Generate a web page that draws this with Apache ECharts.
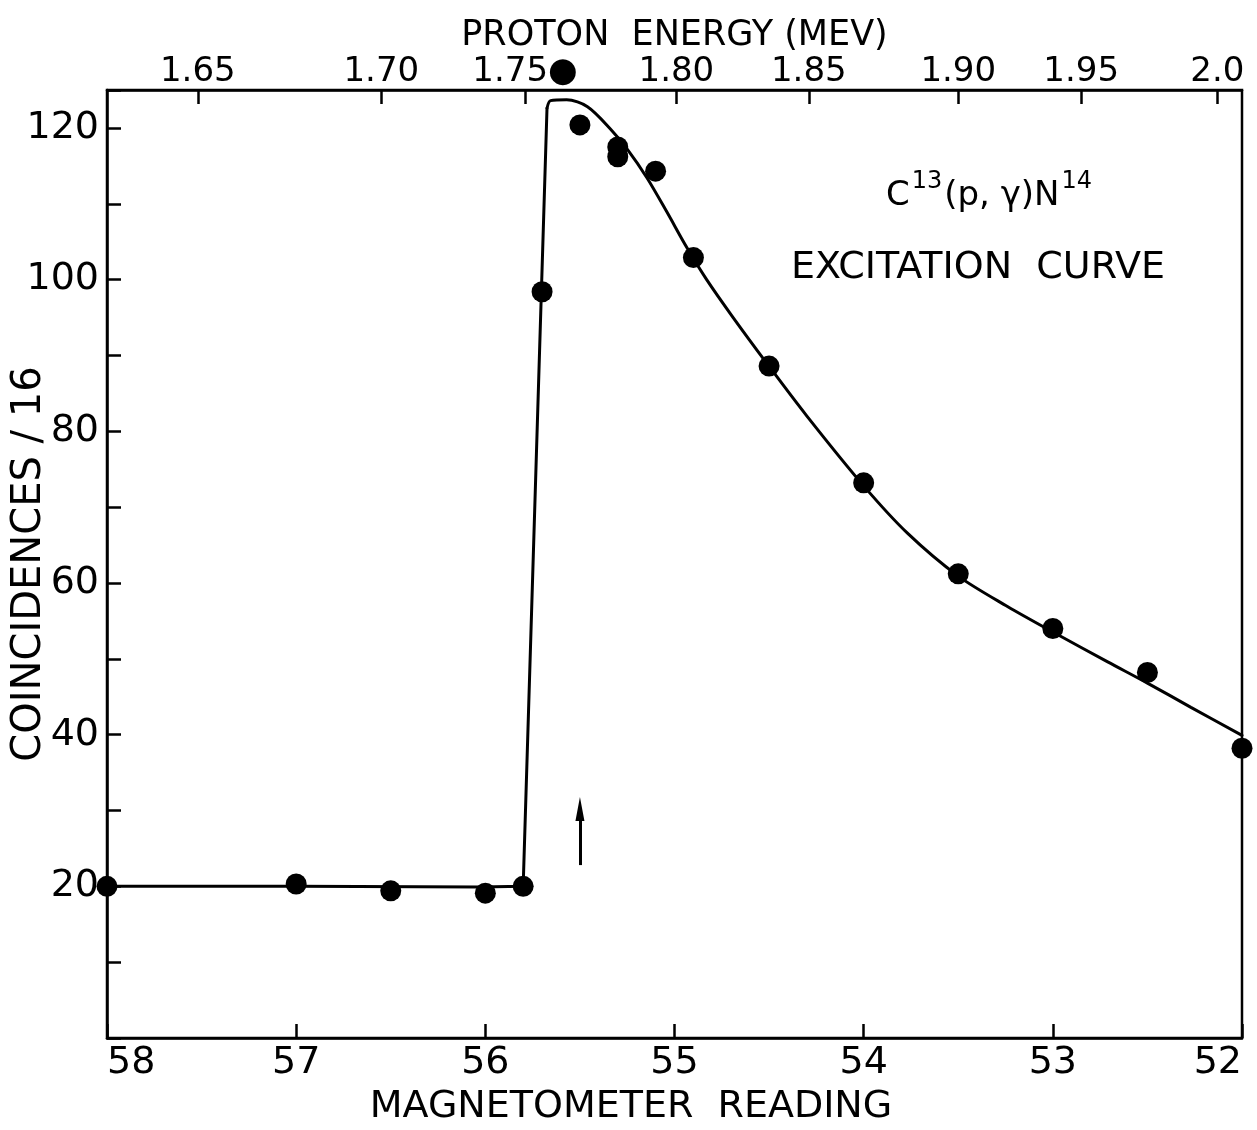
<!DOCTYPE html>
<html>
<head>
<meta charset="utf-8">
<script src="https://cdn.jsdelivr.net/npm/echarts@6/dist/echarts.min.js"></script>
<style>
html,body{margin:0;padding:0;background:#fff;}
#c{width:1257px;height:1130px;}
</style>
</head>
<body>
<div id="c"></div>
<script>
// Measured points (magnetometer reading, coincidences / 16)
const magnetometer = [58, 57, 56.5, 56, 55.8, 55.7, 55.5, 55.3, 55.3, 55.1, 54.9, 54.5, 54, 53.5, 53, 52.5, 52];
const coincidences = [20.0, 20.3, 19.4, 19.1, 20.0, 98.4, 120.4, 117.5, 116.2, 114.3, 102.9, 88.6, 73.2, 61.2, 54.0, 48.2, 38.2];

// Hand-drawn excitation curve: flat part and sharp rise (straight segments)
const riseX = [58, 57, 56.03, 55.80, 55.674];
const riseY = [20.0, 20.0, 19.9, 20.0, 122.6];
// ... and the smooth fall-off after the peak
const fallX = [55.674, 55.655, 55.57, 55.46, 55.34, 55.25, 55.145, 55.04, 54.934, 54.83, 54.69, 54.51, 54.30, 54.00, 53.77, 53.50, 53.24, 52.99, 52.71, 52.50, 52.27, 52.00];
const fallY = [122.6, 123.6, 123.7, 122.8, 119.9, 117.2, 113.4, 108.9, 104.2, 100.0, 95.0, 88.9, 82.0, 72.8, 66.6, 60.9, 56.9, 53.4, 49.6, 46.8, 43.6, 39.9];

// Top axis: proton energy labels and their magnetometer positions
const energyLabels = ['1.65', '1.70', '1.75', '1.80', '1.85', '1.90', '1.95', '2.0'];
const energyPositions = [57.52, 56.55, 55.79, 54.99, 54.29, 53.50, 52.85, 52.13];

// Arrow marker (magnetometer, from / to coincidences)
const arrowX = 55.5;
const arrowFrom = 22.8;
const arrowTo = 30.2;

const FONT = '"DejaVu Sans", "Liberation Sans", sans-serif';

const chart = echarts.init(document.getElementById('c'), null, {renderer: 'canvas'});

const scatterData = magnetometer.map((m, i) => [m, coincidences[i]]);
const riseData = riseX.map((m, i) => [m, riseY[i]]);
const fallData = fallX.map((m, i) => [m, fallY[i]]);

chart.setOption({
  animation: false,
  backgroundColor: '#ffffff',
  grid: {
    left: 107, right: 15, top: 90, bottom: 92,
    containLabel: false, outerBoundsMode: 'none',
    show: true, borderColor: '#000', borderWidth: 2.5, backgroundColor: 'transparent'
  },
  title: [
    {
      text: '{a|C}{s|13}{a|(p, γ)N}{s|14}',
      left: 985, top: 160, textAlign: 'center',
      textStyle: {
        fontWeight: 'normal',
        rich: {
          a: {fontFamily: FONT, fontSize: 34, fontWeight: 'normal', color: '#000', padding: [14, 0, 0, 0]},
          s: {fontFamily: FONT, fontSize: 24, fontWeight: 'normal', color: '#000', padding: [0, 2, 14, 2]}
        }
      }
    },
    {
      text: 'EXCITATION  CURVE',
      left: 973, top: 244, textAlign: 'center',
      textStyle: {fontFamily: FONT, fontSize: 38, fontWeight: 'normal', color: '#000'}
    }
  ],
  xAxis: [
    {
      type: 'value', position: 'bottom', min: 52, max: 58, interval: 1, inverse: true,
      name: 'MAGNETOMETER  READING', nameLocation: 'middle', nameGap: 50, nameMoveOverlap: false,
      nameTextStyle: {fontFamily: FONT, fontSize: 38, color: '#000', padding: [0, 87, 0, 0]},
      axisLine: {show: true, lineStyle: {color: '#000', width: 2.5}},
      axisTick: {show: true, inside: true, length: 14, lineStyle: {color: '#000', width: 2.5}},
      axisLabel: {fontFamily: FONT, fontSize: 38, color: '#000', margin: 6,
        alignMinLabel: 'right', alignMaxLabel: 'left'},
      splitLine: {show: false}
    },
    {
      type: 'value', position: 'top', min: 52, max: 58, inverse: true,
      name: 'PROTON  ENERGY (MEV)', nameLocation: 'middle', nameGap: 37, nameMoveOverlap: false,
      nameTextStyle: {fontFamily: FONT, fontSize: 35, color: '#000'},
      axisLine: {show: true, lineStyle: {color: '#000', width: 2.5}},
      axisTick: {show: true, inside: true, length: 14, customValues: energyPositions,
        lineStyle: {color: '#000', width: 2.5}},
      axisLabel: {
        show: true, margin: 1, customValues: energyPositions,
        fontFamily: FONT, fontSize: 34, color: '#000',
        formatter: function (v) {
          for (let i = 0; i < energyPositions.length; i++) {
            if (Math.abs(energyPositions[i] - v) < 1e-6) {
              return energyLabels[i] === '1.75' ? energyLabels[i] + '{d|●}' : energyLabels[i];
            }
          }
          return '';
        },
        rich: {d: {fontSize: 34, color: '#000', fontFamily: FONT}}
      },
      splitLine: {show: false}
    }
  ],
  yAxis: {
    type: 'value', min: 0, max: 125, interval: 10,
    name: 'COINCIDENCES / 16', nameLocation: 'middle', nameGap: 57, nameRotate: 90, nameMoveOverlap: false,
    nameTextStyle: {fontFamily: FONT, fontSize: 40, color: '#000'},
    axisLine: {show: true, lineStyle: {color: '#000', width: 2.5}},
    axisTick: {show: true, inside: true, length: 14, lineStyle: {color: '#000', width: 2.5}},
    axisLabel: {
      fontFamily: FONT, fontSize: 38, color: '#000', margin: 8,
      formatter: function (v) { return (v > 0 && v % 20 === 0) ? String(v) : ''; }
    },
    splitLine: {show: false}
  },
  series: [
    {
      type: 'line', xAxisIndex: 0, data: riseData, smooth: false,
      showSymbol: false, symbol: 'none', clip: false,
      lineStyle: {color: '#000', width: 3, join: 'round', cap: 'round'}, silent: true, z: 2
    },
    {
      type: 'line', xAxisIndex: 0, data: fallData, smooth: 0.3,
      showSymbol: false, symbol: 'none', clip: false,
      lineStyle: {color: '#000', width: 3, cap: 'round'}, silent: true, z: 2
    },
    {
      type: 'scatter', xAxisIndex: 0, data: scatterData, symbol: 'circle', symbolSize: 21,
      itemStyle: {color: '#000', opacity: 1}, clip: false, silent: true, z: 3,
      markLine: {
        silent: true, animation: false,
        label: {show: false},
        lineStyle: {color: '#000', width: 3, type: 'solid'},
        data: [[
          {coord: [arrowX, arrowFrom], symbol: 'none'},
          {coord: [arrowX, arrowTo], symbol: 'triangle', symbolSize: [9, 24]}
        ]]
      }
    }
  ]
});
</script>
</body>
</html>
